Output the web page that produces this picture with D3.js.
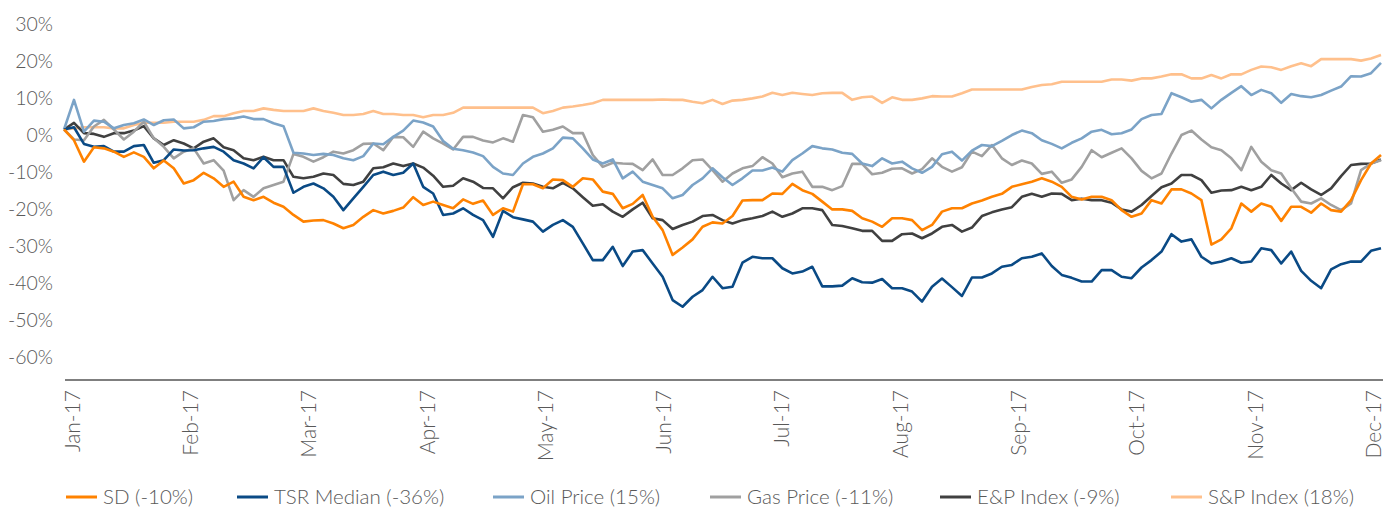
<!DOCTYPE html>
<html>
<head>
<meta charset="utf-8">
<script src="https://cdn.jsdelivr.net/npm/d3@7"></script>
<style>
  html, body { margin: 0; padding: 0; background: #ffffff; }
  svg { display: block; }
  text { font-family: Lato, "Open Sans", sans-serif; font-weight: 300; fill: #595959; }
</style>
</head>
<body>
<svg id="chart" width="1385" height="513"></svg>
<script>
// ---------------- DATA ----------------
const months = ["Jan-17","Feb-17","Mar-17","Apr-17","May-17","Jun-17","Jul-17","Aug-17","Sep-17","Oct-17","Nov-17","Dec-17"];
const yTicks = [30, 20, 10, 0, -10, -20, -30, -40, -50, -60];

const seriesNames = ["SD (-10%)", "TSR Median (-36%)", "Oil Price (15%)", "Gas Price (-11%)", "E&P Index (-9%)", "S&P Index (18%)"];

const sd = [
  1.5, -1.4, -7.2, -3.3, -3.6, -4.5, -5.9, -4.7, -5.9, -9.0, -6.9, -9.0, -13.1, -12.2, -10.2, -11.7, -14.0, -12.6, -16.7, -17.6, -16.7, -18.3, -19.4, -21.6, -23.4, -23.1, -23.0,
  -23.9, -25.2, -24.3, -22.1, -20.3, -21.2, -20.5, -19.6, -16.8, -18.9, -18.0, -18.9, -19.8, -17.4, -18.6, -17.7, -21.6, -19.8, -20.7, -13.3, -13.3, -14.4, -12.0, -12.2, -14.0, -11.7, -12.0,
  -15.3, -15.9, -19.8, -18.6, -16.2, -22.1, -25.7, -32.4, -30.4, -28.2, -24.8, -23.6, -23.9, -21.9, -17.7, -17.6, -17.6, -15.8, -15.9, -13.2, -14.9, -15.9, -18.0, -20.1, -20.1, -20.5,
  -22.5, -23.4, -24.8, -22.5, -22.5, -23.0, -25.7, -24.3, -20.7, -19.8, -19.8, -18.5, -17.7, -16.7, -15.9, -14.0, -13.3, -12.6, -11.7, -12.6, -14.0, -16.7, -17.4, -16.7, -16.7, -17.6,
  -20.3, -22.1, -21.2, -17.6, -18.5, -14.7, -14.7, -15.8, -17.6, -29.6, -28.2, -25.2, -18.5, -20.7, -18.5, -19.4, -23.2, -19.4, -19.4, -21.0, -18.5, -20.3, -20.7, -17.6, -12.2, -7.7, -5.4
];
const tsr = [
  1.5, 2.1, -2.4, -3.2, -3.0, -4.5, -4.5, -3.0, -2.7, -7.5, -6.8, -3.9, -4.2, -4.1, -3.6, -3.2, -4.5, -6.8, -7.7, -9.0, -6.0, -8.6, -8.6, -15.6, -14.0, -13.1, -14.4,
  -16.7, -20.3, -17.1, -14.0, -10.8, -9.9, -10.8, -10.2, -7.7, -14.0, -15.8, -21.6, -21.2, -19.8, -21.6, -23.0, -27.5, -20.5, -22.2, -22.8, -23.4, -26.1, -24.3, -23.0, -24.8, -29.3, -33.8,
  -33.8, -30.2, -35.4, -31.5, -31.1, -34.7, -38.3, -44.6, -46.4, -43.7, -41.9, -38.3, -41.4, -41.0, -34.5, -32.9, -33.3, -33.3, -36.0, -37.4, -36.9, -35.6, -40.9, -40.9, -40.7, -38.7,
  -39.8, -39.9, -38.9, -41.4, -41.4, -42.3, -45.0, -41.0, -38.8, -41.1, -43.5, -38.5, -38.5, -37.4, -35.6, -35.1, -33.3, -32.9, -32.0, -35.4, -37.8, -38.6, -39.6, -39.6, -36.5, -36.5,
  -38.3, -38.7, -35.8, -33.8, -31.5, -26.8, -28.8, -28.2, -32.9, -34.7, -34.2, -33.3, -34.5, -34.2, -30.6, -31.1, -34.7, -31.5, -36.7, -39.4, -41.4, -36.3, -34.9, -34.2, -34.2, -31.3, -30.6
];
const oil = [
  1.5, 9.5, 0.9, 3.9, 3.6, 1.8, 2.7, 3.2, 4.2, 2.7, 4.0, 4.2, 1.8, 2.1, 3.6, 3.8, 4.3, 4.5, 5.0, 4.3, 4.3, 3.2, 2.4, -4.8, -5.0, -5.4, -5.1,
  -5.4, -6.3, -6.8, -5.7, -2.3, -2.5, -0.5, 1.2, 3.9, 3.4, 2.3, -1.6, -3.7, -4.1, -4.7, -5.7, -8.6, -10.4, -10.8, -7.7, -5.9, -5.0, -3.6, -0.7, -0.9, -3.6, -6.6,
  -7.7, -6.6, -11.7, -9.9, -12.6, -13.5, -14.4, -17.1, -16.2, -13.5, -11.7, -9.0, -11.4, -13.5, -11.7, -9.6, -9.6, -8.8, -9.9, -6.8, -5.0, -3.0, -3.6, -3.9, -4.8, -5.1,
  -7.7, -8.4, -6.3, -7.7, -7.2, -9.0, -10.2, -8.6, -5.2, -4.5, -6.9, -4.2, -2.7, -3.0, -1.6, 0.0, 1.2, 0.5, -1.4, -2.4, -3.6, -2.1, -0.9, 0.9, 1.4, 0.2,
  0.5, 1.5, 4.3, 5.4, 5.7, 11.3, 10.2, 9.0, 9.5, 7.2, 9.5, 11.4, 13.2, 10.8, 12.2, 11.3, 8.7, 11.1, 10.5, 10.2, 10.8, 12.0, 13.1, 15.9, 15.8, 16.7, 19.5
];
const gas = [
  1.5, -1.2, -1.4, 2.3, 4.1, 1.5, -1.2, 0.9, 3.6, -0.9, -3.2, -6.3, -4.5, -3.6, -7.7, -6.8, -9.6, -17.6, -14.9, -16.7, -14.4, -13.5, -12.6, -5.1, -5.9, -7.2, -6.0,
  -4.5, -5.0, -4.1, -2.4, -2.3, -4.1, -0.5, -0.6, -3.2, 0.9, -0.9, -2.3, -3.9, -0.5, -0.5, -1.5, -2.0, -0.9, -1.8, 5.4, 4.8, 0.9, 1.4, 2.3, 0.5, 0.5, -5.4,
  -8.6, -7.5, -7.7, -7.8, -9.5, -6.6, -10.8, -10.8, -9.0, -6.8, -6.6, -9.5, -12.6, -10.4, -9.0, -8.4, -6.0, -7.7, -11.4, -10.4, -9.9, -14.0, -14.0, -14.9, -13.8, -7.8,
  -7.8, -10.6, -10.2, -9.1, -9.0, -10.4, -9.2, -6.3, -8.6, -9.9, -8.7, -4.5, -5.7, -2.7, -6.3, -8.1, -6.9, -7.7, -10.5, -9.9, -12.9, -12.0, -8.6, -4.1, -6.0, -4.8,
  -3.6, -6.3, -9.7, -11.7, -10.4, -5.0, 0.0, 1.2, -1.2, -3.3, -4.1, -6.3, -9.5, -3.2, -7.2, -9.5, -10.4, -14.4, -18.0, -18.5, -17.1, -18.9, -20.3, -18.5, -9.5, -7.7, -6.8
];
const ep = [
  1.5, 3.3, 0.5, 0.3, -0.5, 0.5, 0.5, 1.2, 2.4, -0.9, -2.7, -1.4, -2.3, -3.6, -1.8, -0.9, -3.3, -4.1, -6.3, -6.8, -5.9, -6.8, -6.8, -11.3, -11.7, -11.3, -10.4,
  -10.8, -13.2, -13.5, -12.6, -9.0, -8.7, -7.7, -8.4, -7.7, -8.8, -11.0, -14.0, -13.7, -11.7, -12.6, -14.3, -14.4, -17.1, -14.1, -12.9, -13.1, -14.0, -14.4, -12.9, -14.4, -16.8, -19.1,
  -18.7, -20.7, -22.1, -20.1, -18.3, -22.5, -23.0, -25.4, -24.3, -23.4, -21.9, -21.6, -23.0, -23.9, -23.0, -22.5, -21.9, -20.7, -22.1, -21.2, -19.8, -19.8, -20.3, -24.3, -24.6, -25.2,
  -25.9, -25.9, -28.6, -28.6, -26.8, -26.6, -27.9, -26.6, -24.8, -24.3, -26.1, -25.0, -21.9, -20.9, -20.1, -19.5, -16.7, -15.9, -16.7, -15.8, -15.9, -17.6, -17.2, -17.6, -17.6, -18.3,
  -20.1, -20.7, -18.9, -16.5, -14.1, -13.1, -10.8, -10.8, -12.2, -15.6, -15.0, -14.9, -14.0, -14.9, -14.0, -10.8, -13.1, -14.9, -12.9, -14.7, -16.2, -14.4, -11.1, -8.1, -7.8, -7.7, -6.6
];
const sp = [
  1.5, 1.8, 2.1, 2.1, 2.1, 1.8, 1.8, 2.7, 3.3, 3.3, 3.3, 3.6, 3.6, 3.6, 4.1, 5.1, 5.1, 5.9, 6.5, 6.5, 7.2, 6.8, 6.5, 6.5, 6.5, 7.2, 6.5,
  6.0, 5.4, 5.4, 5.7, 6.5, 5.7, 5.7, 5.4, 5.4, 4.8, 5.4, 5.4, 6.0, 7.4, 7.4, 7.4, 7.4, 7.4, 7.4, 7.4, 7.4, 5.9, 6.5, 7.4, 7.7, 8.1, 8.6,
  9.5, 9.5, 9.5, 9.5, 9.5, 9.5, 9.6, 9.5, 9.5, 9.0, 8.6, 9.5, 8.4, 9.3, 9.5, 9.9, 10.4, 11.4, 10.8, 11.4, 11.1, 10.8, 11.3, 11.4, 11.4, 9.5,
  10.2, 10.4, 8.7, 10.2, 9.5, 9.5, 9.9, 10.5, 10.4, 10.4, 11.3, 12.3, 12.3, 12.3, 12.3, 12.3, 12.3, 13.0, 13.5, 13.7, 14.4, 14.4, 14.4, 14.4, 14.4, 15.0,
  15.0, 14.7, 15.3, 15.3, 15.8, 16.4, 16.4, 15.3, 15.3, 16.2, 15.3, 16.4, 16.4, 17.6, 18.5, 18.3, 17.6, 18.6, 19.4, 18.6, 20.5, 20.5, 20.5, 20.5, 20.1, 20.7, 21.6
];

const colors = ["#FF8200", "#0A4A85", "#7BA3C7", "#A0A0A0", "#404040", "#FFC08C"];
const seriesValues = [sd, tsr, oil, gas, ep, sp];

// ---------------- LAYOUT ----------------
const W = 1385, H = 513;
const plotLeft = 64, plotRight = 1381;
const axisY = 380;
const legendX = [66, 237, 493, 710, 940, 1171];
const legendY = 497;

const svg = d3.select("#chart");

const N = sd.length;
const x = d3.scaleLinear().domain([0, N - 1]).range([plotLeft, plotRight]);
const y = d3.scaleLinear().domain([-66.2, 30]).range([axisY, 24]);
const xMonth = d3.scalePoint().domain(months).range([72, 1373]);

// Y axis labels (no axis line, no gridlines)
const yAxis = d3.axisLeft(y).tickValues(yTicks).tickSize(0).tickPadding(0)
  .tickFormat(d => d + "%");
const gy = svg.append("g").attr("transform", "translate(53,0)").call(yAxis);
gy.select(".domain").remove();
gy.selectAll("text").attr("font-size", 19.5).attr("font-family", "Lato, sans-serif")
  .attr("font-weight", 300).attr("fill", "#595959").attr("dy", "0.35em").attr("x", 0);

// X axis line
svg.append("line").attr("x1", 65).attr("x2", 1383).attr("y1", axisY).attr("y2", axisY)
  .attr("stroke", "#7F7F7F").attr("stroke-width", 2);

// X month labels rotated
const xAxis = d3.axisBottom(xMonth).tickSize(0).tickPadding(0);
const gx = svg.append("g").attr("transform", `translate(0,${axisY})`).call(xAxis);
gx.select(".domain").remove();
gx.selectAll("text")
  .attr("font-size", 21).attr("font-family", "Lato, sans-serif").attr("font-weight", 300)
  .attr("fill", "#595959")
  .attr("transform", "rotate(-90)")
  .attr("text-anchor", "end")
  .attr("x", -10).attr("y", 0).attr("dy", "0.35em");

// Lines
const line = d3.line().x((d, i) => x(i)).y(d => y(d));
const drawOrder = [5, 4, 3, 2, 1, 0];
drawOrder.forEach(si => {
  svg.append("path").datum(seriesValues[si])
    .attr("d", line)
    .attr("fill", "none")
    .attr("stroke", colors[si])
    .attr("stroke-width", 2.6)
    .attr("stroke-linejoin", "round");
});

// Legend
seriesNames.forEach((name, i) => {
  const g = svg.append("g").attr("transform", `translate(${legendX[i]},${legendY})`);
  g.append("line").attr("x1", 0).attr("x2", 31).attr("y1", 0).attr("y2", 0)
    .attr("stroke", colors[i]).attr("stroke-width", 3);
  g.append("text").attr("x", 37).attr("y", 0).attr("dy", "0.35em")
    .attr("font-size", 20.5).attr("font-weight", 300).text(name);
});
</script>
</body>
</html>
